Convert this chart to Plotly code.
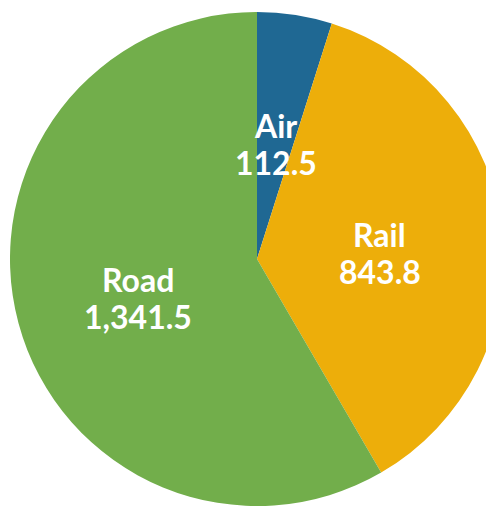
import math
import plotly.graph_objects as go

labels = ["Air", "Rail", "Road"]
values = [112.5, 843.8, 1341.5]
colors = ["#1f6893", "#edae0a", "#72ae4b"]

# figure geometry (pixels)
W, H = 514, 518
CX, CY, R = 257, 259, 247

fig = go.Figure(go.Pie(
    labels=labels,
    values=values,
    sort=False,
    direction="clockwise",
    rotation=0,
    marker=dict(colors=colors, line=dict(width=0)),
    textinfo="none",
    domain=dict(x=[(CX - R) / W, (CX + R) / W],
                y=[(H - CY - R) / H, (H - CY + R) / H]),
    showlegend=False,
    hoverinfo="label+value",
))

# labels placed at each slice's mid-angle
total = sum(values)
cum = 0.0
annotations = []
font = dict(family="Lato", size=32, color="white")
for lab, val in zip(labels, values):
    mid = (cum + val / 2) / total * 2 * math.pi
    cum += val
    d = 0.5 * R
    px = CX + d * math.sin(mid)
    py = CY - d * math.cos(mid)
    ax, ay = px / W, 1 - py / H
    annotations.append(dict(x=ax, y=ay, xref="paper", yref="paper",
                            text=f"<b>{lab}</b>", showarrow=False,
                            font=font, xanchor="center", yanchor="middle",
                            yshift=-7 + 18.5))
    annotations.append(dict(x=ax, y=ay, xref="paper", yref="paper",
                            text=f"<b>{val:,.1f}</b>", showarrow=False,
                            font=font, xanchor="center", yanchor="middle",
                            yshift=-7 - 18.5))

fig.update_layout(
    width=W, height=H,
    margin=dict(l=0, r=0, t=0, b=0),
    paper_bgcolor="white",
    plot_bgcolor="white",
    annotations=annotations,
)

fig.write_html(
    "out.html",
    config={"displayModeBar": False},
    post_script="document.body.style.margin='0';"
                "document.body.style.overflow='hidden';"
                "document.documentElement.style.overflow='hidden';",
)
